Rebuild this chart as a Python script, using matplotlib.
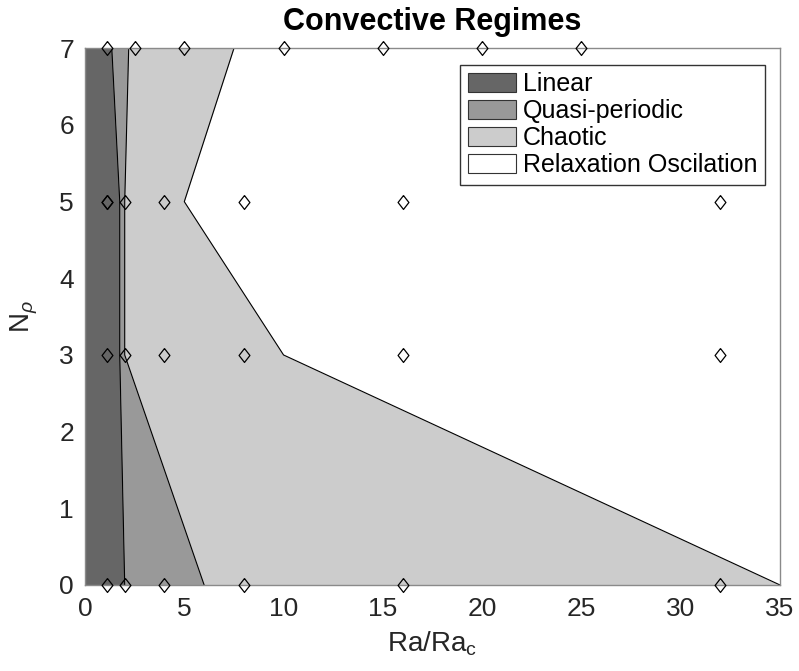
import matplotlib
matplotlib.use("Agg")
import matplotlib.pyplot as plt
from matplotlib.patches import Patch

plt.rcParams["font.family"] = ["Liberation Sans", "DejaVu Sans"]
plt.rcParams["mathtext.fontset"] = "custom"
plt.rcParams["mathtext.rm"] = "Liberation Sans"
plt.rcParams["mathtext.it"] = "Liberation Sans:italic"

# regime boundaries (Ra/Ra_c) at each density contrast level
n_rho = [0, 3, 5, 7]
linear_edge = [2.0, 1.75, 1.75, 1.35]
quasi_edge = [6.0, 2.0, 2.0, 2.2]
chaotic_edge = [35.0, 10.0, 5.0, 7.5]

# simulated cases
runs_ra = [1.1, 2, 4, 8, 16, 32,
           1.1, 2, 4, 8, 16, 32,
           1.1, 1.1, 2, 4, 8, 16, 32,
           1.1, 2.5, 5, 10, 15, 20, 25]
runs_n = [0, 0, 0, 0, 0, 0,
          3, 3, 3, 3, 3, 3,
          5, 5, 5, 5, 5, 5, 5,
          7, 7, 7, 7, 7, 7, 7]

regimes = ["Linear", "Quasi-periodic", "Chaotic", "Relaxation Oscilation"]
shades = ["#666666", "#999999", "#cccccc", "#ffffff"]

fig = plt.figure(figsize=(7.99, 6.71), dpi=100)
ax = fig.add_axes([0.1064, 0.1282, 0.8698, 0.7998])

ax.fill_betweenx(n_rho, 0, linear_edge, color=shades[0], lw=0, zorder=1)
ax.fill_betweenx(n_rho, linear_edge, quasi_edge, color=shades[1], lw=0, zorder=1)
ax.fill_betweenx(n_rho, quasi_edge, chaotic_edge, color=shades[2], lw=0, zorder=1)
for edge in (linear_edge, quasi_edge, chaotic_edge):
    ax.plot(edge, n_rho, color="black", lw=0.8, zorder=2)

diamond = [(0, 1), (0.78, 0), (0, -1), (-0.78, 0), (0, 1)]
ax.plot(runs_ra, runs_n, ls="none", marker=diamond, ms=10,
        mfc="none", mec="black", mew=0.9, zorder=4, clip_on=False)

ax.set_xlim(0, 35)
ax.set_ylim(0, 7)
ax.set_xticks(range(0, 36, 5))
ax.set_yticks(range(0, 8))
ax.tick_params(length=0, labelsize=19, labelcolor="#262626")
ax.tick_params(axis="x", pad=9)
ax.tick_params(axis="y", pad=8)
for sp in ax.spines.values():
    sp.set_color("#8a8a8a")
    sp.set_linewidth(1.0)

ax.set_title("Convective Regimes", fontsize=22, fontweight="bold", pad=13)
ax.set_xlabel(r"Ra/Ra$_\mathrm{c}$", fontsize=20, color="#262626", labelpad=6)
ax.set_ylabel(r"N$_\rho$", fontsize=20, color="#262626", labelpad=14)

handles = [Patch(facecolor=c, edgecolor="#333333", lw=0.8) for c in shades]
leg = ax.legend(handles, regimes, loc="upper right",
                bbox_to_anchor=(0.978, 0.969), borderaxespad=0,
                fontsize=18, frameon=True, fancybox=False,
                edgecolor="black", handlelength=1.95, handleheight=0.8,
                handletextpad=0.25, labelspacing=0.12, borderpad=0.3)
leg.get_frame().set_linewidth(1.0)
leg.set_zorder(5)

fig.savefig("out.png", dpi=100)
